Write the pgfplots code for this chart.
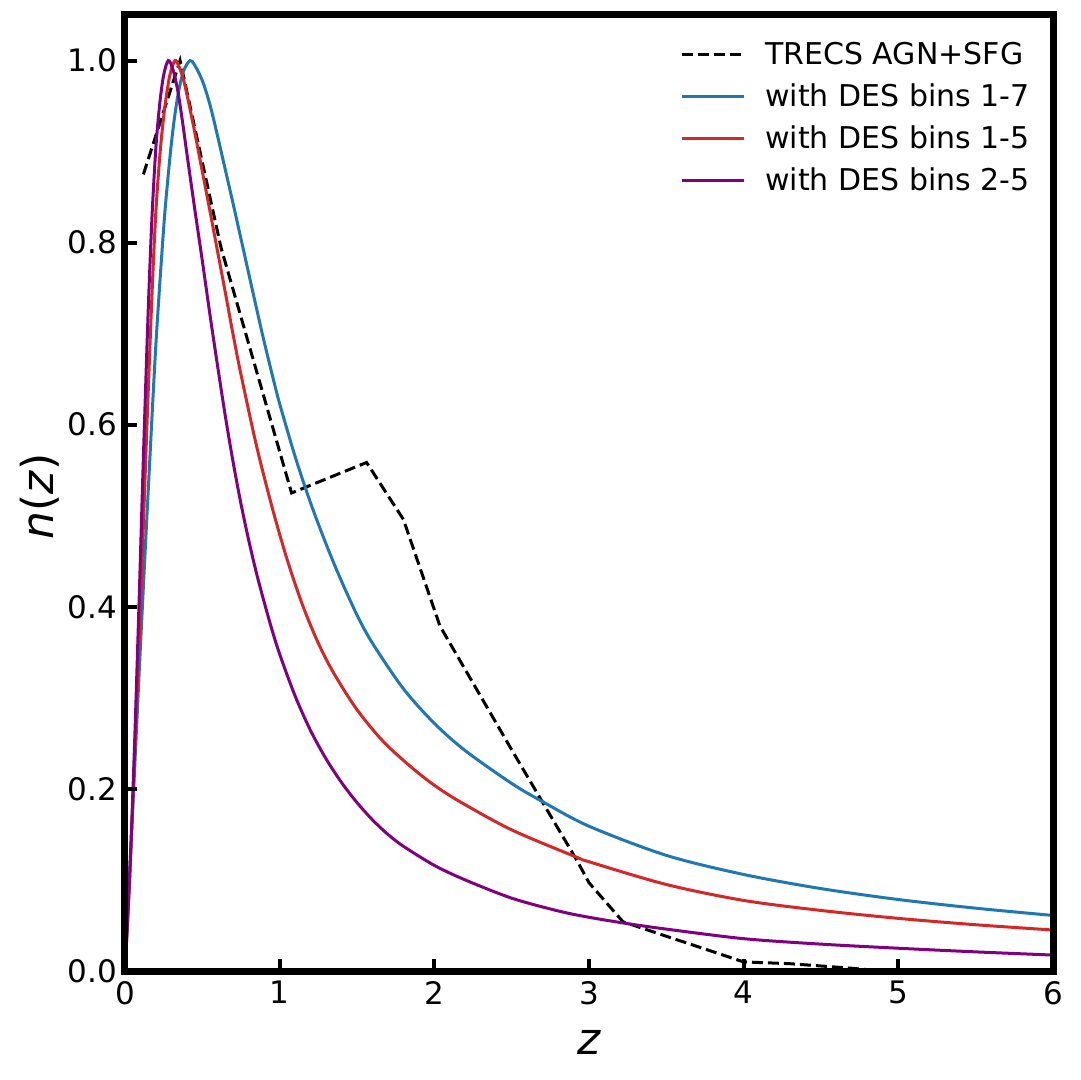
\documentclass[border=0pt]{standalone}
\usepackage{fontspec}
\setmainfont{DejaVu Sans}
\usepackage{pgfplots}
\pgfplotsset{compat=1.18}
\definecolor{mplblue}{HTML}{1F77B4}
\definecolor{mplred}{HTML}{D62728}
\definecolor{mplpurple}{HTML}{800080}
\begin{document}
\begin{tikzpicture}
\path[use as bounding box] (-62.5pt,-54.5pt) rectangle (477.5pt,485.5pt);
\begin{axis}[
  at={(0,0)}, anchor=south west,
  scale only axis, width=464pt, height=478pt,
  xmin=0, xmax=6, ymin=0, ymax=1.05,
  xtick={0,1,2,3,4,5,6},
  ytick={0,0.2,0.4,0.6,0.8,1.0},
  yticklabel style={xshift=-0.5pt},
  y tick label style={/pgf/number format/.cd, fixed, fixed zerofill, precision=1},
  /pgf/number format/assume math mode=true,
  xtick pos=left, ytick pos=left,
  tick align=inside,
  major tick length=6pt,
  tick style={line width=2pt, black},
  axis line style={line width=3.5pt},
  axis on top,
  ticklabel style={font=\fontsize{15.5}{18}\selectfont},
  xticklabel style={yshift=-1.5pt},
  xlabel={\textit{z}}, ylabel={\textit{n}(\textit{z})},
  label style={font=\fontsize{22}{26}\selectfont},
  xlabel style={at={(axis description cs:0.5,-0.075)}, anchor=center},
  ylabel style={at={(axis description cs:-0.092,0.496)}, anchor=center},
  legend style={draw=none, fill=none, at={(axis description cs:0.986,0.981)}, anchor=north east,
    font=\fontsize{15}{18}\selectfont, row sep=4pt,
    cells={anchor=west, text height=11.5pt, text depth=3pt, inner sep=2pt},
    /tikz/every odd column/.append style={column sep=8pt}},
  legend cell align=left,
  legend image code/.code={\draw[#1] plot coordinates {(0pt,0pt) (15.5pt,0pt) (31pt,0pt)};},
  every axis plot/.append style={line width=1.5pt},
]
\addplot[black, dash pattern=on 5.5pt off 2.5pt] coordinates {
(0.119,0.875) (0.356,1.0) (0.62,0.795) (1.077,0.525) (1.562,0.5585) (1.80,0.496)
(2.036,0.379) (2.5,0.243) (2.68,0.191) (2.92,0.122) (3.0,0.097) (3.22,0.054)
(4.0,0.01) (4.3,0.008) (4.7,0.003) (4.8,0.0015)
};
\addlegendentry{TRECS AGN+SFG}
\addplot[mplblue, smooth] coordinates {
(0,0) (0.05,0.178) (0.10,0.357) (0.15,0.527) (0.20,0.689) (0.25,0.816) (0.276,0.868)
(0.30,0.909) (0.323,0.941) (0.35,0.969) (0.38,0.989) (0.42,1.0) (0.45,0.995) (0.50,0.978)
(0.55,0.951) (0.60,0.916) (0.65,0.879) (0.70,0.842) (0.75,0.804) (0.80,0.766) (0.85,0.728)
(0.90,0.691) (0.959,0.650) (1.0,0.623) (1.1,0.565) (1.2,0.514) (1.3,0.469) (1.39,0.432)
(1.5,0.391) (1.6,0.360) (1.8,0.310) (2.0,0.272) (2.2,0.242) (2.5,0.206) (2.7,0.186)
(3.0,0.159) (3.5,0.127) (4.0,0.106) (4.5,0.0905) (5.0,0.0785) (5.5,0.069) (6.0,0.061)
};
\addlegendentry{with DES bins 1-7}
\addplot[mplred, smooth] coordinates {
(0,0) (0.03,0.10) (0.06,0.225) (0.10,0.40) (0.14,0.59) (0.175,0.745) (0.20,0.835)
(0.23,0.905) (0.26,0.952) (0.29,0.984) (0.323,1.0) (0.35,0.993) (0.38,0.978) (0.41,0.955)
(0.45,0.922) (0.50,0.878) (0.55,0.834) (0.60,0.789) (0.65,0.744) (0.70,0.698) (0.75,0.655)
(0.85,0.577) (0.95,0.510) (1.05,0.451) (1.15,0.401) (1.25,0.360) (1.35,0.327) (1.5,0.287)
(1.67,0.252) (1.85,0.224) (2.0,0.204) (2.165,0.186) (2.5,0.155) (2.92,0.125) (3.0,0.120)
(3.5,0.095) (4.0,0.0775) (4.5,0.0665) (5.0,0.0578) (5.5,0.0508) (6.0,0.045)
};
\addlegendentry{with DES bins 1-5}
\addplot[mplpurple, smooth] coordinates {
(0,0) (0.03,0.105) (0.06,0.24) (0.09,0.40) (0.12,0.57) (0.15,0.725) (0.175,0.83)
(0.20,0.905) (0.225,0.953) (0.25,0.984) (0.28,1.0) (0.31,0.99) (0.34,0.968) (0.37,0.935)
(0.40,0.898) (0.45,0.838) (0.50,0.78) (0.55,0.72) (0.60,0.663) (0.65,0.608) (0.70,0.558)
(0.75,0.513) (0.80,0.473) (0.85,0.437) (0.90,0.405) (0.95,0.375) (1.0,0.348) (1.1,0.302)
(1.2,0.264) (1.3,0.233) (1.4,0.207) (1.5,0.185) (1.6,0.166) (1.7,0.150) (1.8,0.137)
(2.0,0.116) (2.2,0.100) (2.5,0.080) (2.8,0.066) (3.0,0.059) (3.25,0.052) (3.5,0.046)
(4.0,0.0355) (4.5,0.0295) (5.0,0.025) (5.5,0.021) (6.0,0.0175)
};
\addlegendentry{with DES bins 2-5}
\end{axis}
\end{tikzpicture}
\end{document}
